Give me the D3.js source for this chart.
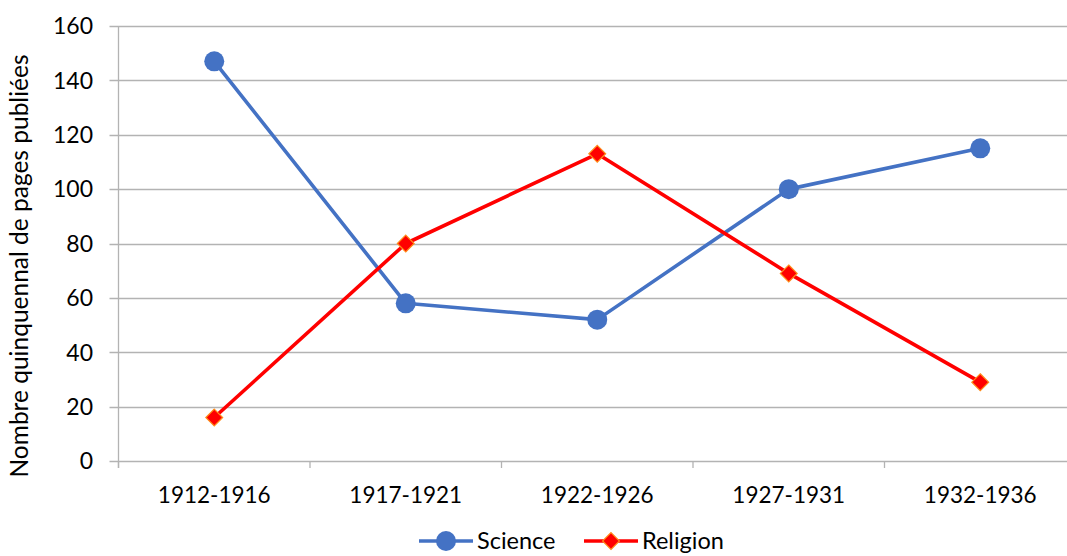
<!DOCTYPE html>
<html>
<head>
<meta charset="utf-8">
<script src="https://cdn.jsdelivr.net/npm/d3@7"></script>
<style>
  body { margin: 0; background: #fff; }
  svg { display: block; font-family: Lato, "Open Sans", sans-serif; }
</style>
</head>
<body>
<svg id="chart" width="1067" height="556"></svg>
<script>
// Pages published per five-year period
const periods = ["1912-1916", "1917-1921", "1922-1926", "1927-1931", "1932-1936"];
const science = [147, 58, 52, 100, 115];
const religion = [16, 80, 113, 69, 29];
const yTicks = [0, 20, 40, 60, 80, 100, 120, 140, 160];

const svg = d3.select("#chart");
const plotLeft = 118.5, plotRight = 1076, plotTop = 26, plotBottom = 461;

const x = d3.scaleBand().domain(periods).range([plotLeft, plotRight]);
const y = d3.scaleLinear().domain([0, 160]).range([plotBottom, plotTop]);

// horizontal gridlines with short ticks to the left of the axis
svg.append("g")
  .selectAll("line")
  .data(yTicks)
  .join("line")
  .attr("x1", plotLeft - 9).attr("x2", 1067)
  .attr("y1", d => Math.round(y(d)) + 0.5).attr("y2", d => Math.round(y(d)) + 0.5)
  .attr("stroke", "#b3b3b3").attr("stroke-width", 1.3);

// y axis line
svg.append("line")
  .attr("x1", plotLeft).attr("x2", plotLeft).attr("y1", plotTop).attr("y2", plotBottom + 7)
  .attr("stroke", "#b3b3b3").attr("stroke-width", 1.3);

// x category boundary ticks
svg.append("g")
  .selectAll("line")
  .data(periods)
  .join("line")
  .attr("x1", d => x(d)).attr("x2", d => x(d))
  .attr("y1", plotBottom).attr("y2", plotBottom + 7)
  .attr("stroke", "#b3b3b3").attr("stroke-width", 1.3);

// y tick labels
svg.append("g")
  .selectAll("text")
  .data(yTicks)
  .join("text")
  .attr("x", 93).attr("y", d => y(d))
  .attr("dy", "0.36em")
  .attr("text-anchor", "end")
  .attr("font-size", 23)
  .attr("fill", "#000")
  .text(d => d);

// x tick labels
svg.append("g")
  .selectAll("text")
  .data(periods)
  .join("text")
  .attr("x", d => x(d) + x.bandwidth() / 2).attr("y", 503)
  .attr("text-anchor", "middle")
  .attr("font-size", 22.5)
  .attr("fill", "#000")
  .text(d => d);

// y axis title
svg.append("text")
  .attr("transform", "translate(28,266) rotate(-90)")
  .attr("text-anchor", "middle")
  .attr("font-size", 24.5)
  .attr("fill", "#000")
  .text("Nombre quinquennal de pages publiées");

const cx = (d, i) => x(periods[i]) + x.bandwidth() / 2;
const line = d3.line().x((d, i) => cx(d, i)).y(d => y(d));

const blue = "#4472C4", red = "#FF0000", orange = "#FF8C1A";
const diamond = d3.symbol().type(d3.symbolDiamond2).size(180);

// Science series
svg.append("path").datum(science)
  .attr("d", line).attr("fill", "none")
  .attr("stroke", blue).attr("stroke-width", 3.6).attr("stroke-linejoin", "round");
svg.append("g").selectAll("circle").data(science).join("circle")
  .attr("cx", cx).attr("cy", d => y(d)).attr("r", 10).attr("fill", blue);

// Religion series
svg.append("path").datum(religion)
  .attr("d", line).attr("fill", "none")
  .attr("stroke", red).attr("stroke-width", 3.6).attr("stroke-linejoin", "round");
svg.append("g").selectAll("path").data(religion).join("path")
  .attr("d", diamond)
  .attr("transform", (d, i) => `translate(${cx(d, i)},${y(d)})`)
  .attr("fill", red).attr("stroke", orange).attr("stroke-width", 1.2);

// legend
const legend = svg.append("g").attr("transform", "translate(0,541)");
legend.append("line").attr("x1", 419).attr("x2", 473).attr("stroke", blue).attr("stroke-width", 3.6);
legend.append("circle").attr("cx", 446).attr("cy", 0).attr("r", 10).attr("fill", blue);
legend.append("text").attr("x", 477).attr("y", 0).attr("dy", "0.36em")
  .attr("font-size", 23.5).attr("fill", "#000").text("Science");
legend.append("line").attr("x1", 584).attr("x2", 638).attr("stroke", red).attr("stroke-width", 3.6);
legend.append("path").attr("d", diamond).attr("transform", "translate(611,0)")
  .attr("fill", red).attr("stroke", orange).attr("stroke-width", 1.2);
legend.append("text").attr("x", 642).attr("y", 0).attr("dy", "0.36em")
  .attr("font-size", 23.5).attr("fill", "#000").text("Religion");
</script>
</body>
</html>
